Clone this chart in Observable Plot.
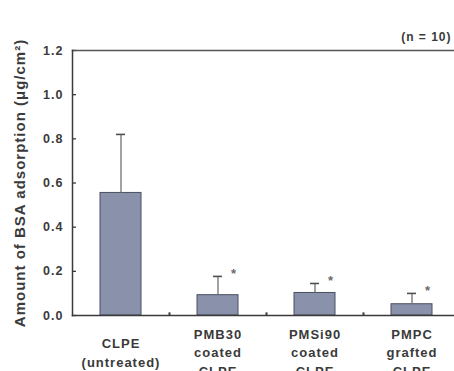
<!DOCTYPE html>
<html>
<head>
<meta charset="utf-8">
<script src="https://cdn.jsdelivr.net/npm/d3@7"></script>
<script src="https://cdn.jsdelivr.net/npm/@observablehq/plot@0.6"></script>
<style>
  html, body { margin: 0; padding: 0; background: #ffffff; overflow: hidden; }
  #chart svg text { letter-spacing: 1px; }
</style>
</head>
<body>
<div id="chart"></div>
<script>
const categories = ["CLPE", "PMB30", "PMSi90", "PMPC"];
const labels = ["CLPE\n(untreated)", "PMB30\ncoated\nCLPE", "PMSi90\ncoated\nCLPE", "PMPC\ngrafted\nCLPE"];
const means = [0.555, 0.092, 0.102, 0.051];
const upper = [0.82, 0.177, 0.145, 0.100];
const significant = [false, true, true, true];
const yTicks = [0, 0.2, 0.4, 0.6, 0.8, 1.0, 1.2];
const note = "(n = 10)";
const yLabel = "Amount of BSA adsorption (\u03bcg/cm\u00b2)";

const data = categories.map((c, i) => ({cat: c, label: labels[i], mean: means[i], upper: upper[i], sig: significant[i]}));
const ink = "#3a3a3a";
const W = 454, ML = 72;

const chart = Plot.plot({
  width: W,
  height: 371,
  marginLeft: ML,
  marginRight: 0,
  marginTop: 50,
  marginBottom: 56,
  style: {fontFamily: "'Liberation Sans', Arial, sans-serif", fontWeight: "bold", fontSize: "12px", color: ink, background: "#fff"},
  x: {domain: categories, range: [72, 460], paddingInner: 0.58, paddingOuter: 0.29, axis: null},
  y: {domain: [0, 1.2], axis: null},
  marks: [
    Plot.axisY(yTicks, {tickSize: 0, tickPadding: 9, tickFormat: d3.format(".1f"), fontSize: 12.5, fill: ink, label: null}),
    Plot.tickY(yTicks, {y: d => d, insetRight: W - ML - 4, stroke: ink, strokeWidth: 1.3}),
    Plot.barY(data, {x: "cat", y: "mean", fill: "#8991ab", stroke: "#4a4f60", strokeWidth: 1}),
    Plot.ruleX(data, {x: "cat", y1: "mean", y2: "upper", stroke: "#707070", strokeWidth: 1.3}),
    Plot.tickY(data, {x: "cat", y: "upper", stroke: "#505050", strokeWidth: 1.6, insetLeft: 16, insetRight: 16}),
    Plot.text(data.filter(d => d.sig), {x: "cat", y: "upper", text: () => "*", dx: 16, dy: -3, fontSize: 13, fill: "#6a6a6a", lineAnchor: "middle"}),
    Plot.ruleX(categories.slice(0, 3), {x: d => d, y1: 0, y2: 0.012, dx: 48.5, stroke: ink, strokeWidth: 2}),
    Plot.frame({anchor: "top", stroke: "#555", strokeWidth: 1.5}),
    Plot.frame({anchor: "left", stroke: ink, strokeWidth: 1.5}),
    Plot.frame({anchor: "bottom", stroke: ink, strokeWidth: 1.5}),
    Plot.text(data, {x: "cat", text: "label", frameAnchor: "bottom", dy: 36, lineAnchor: "middle", lineHeight: 1.42, fontSize: 13, fontWeight: "bold", fill: ink}),
    Plot.text([note], {frameAnchor: "top-right", text: d => d, dx: -3, dy: -13, fontSize: 12, fill: ink, textAnchor: "end", lineAnchor: "middle"}),
    Plot.text([yLabel], {frameAnchor: "left", text: d => d, rotate: -90, dx: -52, textAnchor: "middle", lineAnchor: "middle", fontSize: 15, fontWeight: "bold", fill: ink})
  ]
});
document.getElementById("chart").appendChild(chart);
</script>
</body>
</html>
